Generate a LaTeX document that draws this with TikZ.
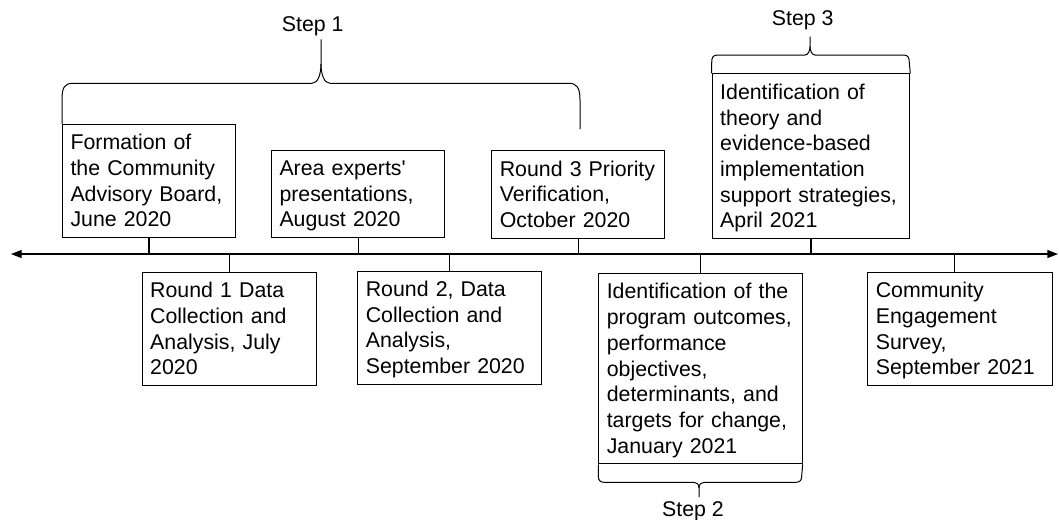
\documentclass[tikz,border=0pt]{standalone}
\usepackage{fontspec}
\setmainfont{Liberation Sans}
\usetikzlibrary{arrows.meta,calc}
\newcommand{\ls}{\rule[-4.1pt]{0pt}{19.3pt}}
\begin{document}
\begin{tikzpicture}[x=0.75pt,y=-0.75pt,
  box/.style={draw, line width=0.75pt, align=left, inner xsep=6pt, inner ysep=3.8pt,
              font=\fontsize{16pt}{19.3pt}\selectfont},
  lbl/.style={font=\fontsize{16pt}{19.3pt}\selectfont, inner sep=0pt, anchor=base},
  tickline/.style={line width=1pt},
  brc/.style={line width=0.75pt, line join=round},
  tip/.style={Triangle[length=8pt,width=6pt]}]
\useasboundingbox (0,0) rectangle (1059,519);
\coordinate (tlL) at (11,254);
\coordinate (tlR) at (1058,254);
\draw[line width=1pt, {Triangle[length=8pt,width=6pt]}-{Triangle[length=8pt,width=6pt]}] (tlL) -- (tlR);

% upper boxes
\node[box, anchor=south west, text width=117.75pt] (b1) at (62,238)
  {\ls Formation of\\\ls the Community\\\ls Advisory Board,\\\ls June 2020};
\node[box, anchor=south west, text width=118pt] (b2) at (271,238)
  {\ls Area experts\textquotesingle\\\ls presentations,\\\ls August 2020};
\node[box, anchor=south west, text width=117.75pt] (b3) at (491.3,238.7)
  {\ls Round 3 Priority\\\ls Verification,\\\ls October 2020};
\node[box, anchor=south west, text width=136.2pt] (b4) at (711.7,239)
  {\ls Identification of\\\ls theory and\\\ls evidence-based\\\ls implementation\\\ls support strategies,\\\ls April 2021};

% lower boxes
\node[box, anchor=north west, text width=118.7pt] (r1) at (141.7,271.7)
  {\ls Round 1 Data\\\ls Collection and\\\ls Analysis, July\\\ls 2020};
\node[box, anchor=north west, text width=125.8pt] (r2) at (357.3,270.5)
  {\ls Round 2, Data\\\ls Collection and\\\ls Analysis,\\\ls September 2020};
\node[box, anchor=north west, text width=140.5pt] (r3) at (598.3,273)
  {\ls Identification of the\\\ls program outcomes,\\\ls performance\\\ls objectives,\\\ls determinants, and\\\ls targets for change,\\\ls January 2021};
\node[box, anchor=north west, text width=126.75pt] (r4) at (867.3,271.7)
  {\ls Community\\\ls Engagement\\\ls Survey,\\\ls September 2021};

% ticks
\foreach \n in {b1,b2,b3,b4}{\draw[tickline] (\n.south) -- (\n.south |- tlL);}
\foreach \n in {r1,r2,r3}{\draw[tickline] (\n.north) -- (\n.north |- tlL);}
\coordinate (r4t) at ($(r4.north)+(-6,0)$);
\draw[tickline] (r4t) -- (r4t |- tlL);

% labels
\node[lbl] (s1) at (312.7,31.7) {Step 1};
\node[lbl] (s3) at (802.7,25) {Step 3};
\node[lbl] (s2) at (693,516) {Step 2};

% brace step 1
\draw[brc] (b1.north west) -- (62,100) .. controls (62,88) and (64,83.3) .. (73,83.3)
  -- (312,83.3) .. controls (318,83.3) and (321,74) .. (321,64) -- (321,39.3);
\draw[brc] (321,64) .. controls (321,74) and (324,83.3) .. (330,83.3)
  -- (569,83.3) .. controls (577,83.3) and (580,88) .. (580,100) -- (580,129);

% brace step 3
\draw[brc] (b4.north west) -- (711.7,63) .. controls (711.7,57) and (713,55) .. (718,55)
  -- (805,55) .. controls (808,55) and (810,51) .. (810,46.5) -- (810,36.7);
\draw[brc] (810,46.5) .. controls (810,51) and (812,55) .. (815,55)
  -- (903,55) .. controls (908,55) and (909.3,57) .. (909.3,63) -- (b4.north east);

% brace step 2
\draw[brc] (r3.south west) -- (598.3,476) .. controls (598.3,480) and (600,482.3) .. (604,482.3)
  -- (694,482.3) .. controls (697,482.3) and (699,484.5) .. (699,488) -- (699,497);
\draw[brc] (699,488) .. controls (699,484.5) and (701,482.3) .. (704,482.3)
  -- (796,482.3) .. controls (800,482.3) and (801.7,480) .. (801.7,476) -- (r3.south east);
\end{tikzpicture}
\end{document}
